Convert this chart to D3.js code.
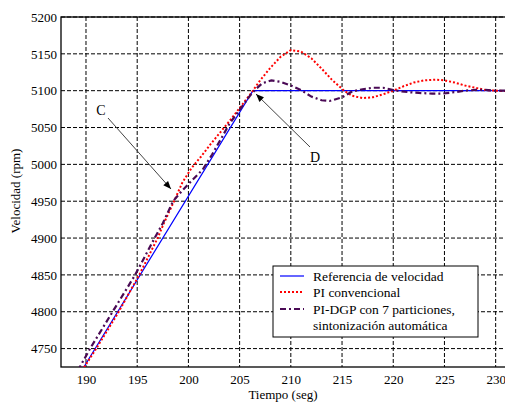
<!DOCTYPE html>
<html>
<head>
<meta charset="utf-8">
<script src="https://cdn.jsdelivr.net/npm/d3@7"></script>
<style>
  body { margin: 0; background: #fff; }
  svg text { font-family: "Liberation Serif", "Times New Roman", "DejaVu Serif", serif; fill: #000; }
</style>
</head>
<body>
<div id="chart"></div>
<script>
// tiempo (seg) / velocidad (rpm)
const xTicks = [190, 195, 200, 205, 210, 215, 220, 225, 230];
const yTicks = [4750, 4800, 4850, 4900, 4950, 5000, 5050, 5100, 5150, 5200];

const refT = [189.4, 206.3, 232];
const refV = [4716, 5100, 5100];

const piT = [189.6, 191.0, 193.2, 195.2, 197.0, 197.6, 198.6, 199.4, 200.3, 201.2, 202.2, 203.2, 204.2, 205.2, 206.2,
  207.0, 208.0, 209.0, 210.0, 211.0, 212.0, 213.0, 214.0, 215.2, 216.0, 217.0, 218.0, 219.0, 220.0,
  221.0, 222.0, 223.0, 224.1, 225.0, 226.0, 227.0, 228.0, 229.0, 230.0, 232.0];
const piV = [4720, 4750, 4800, 4850, 4900, 4920, 4950, 4975, 4995, 5010, 5028, 5045, 5062, 5080, 5098,
  5114, 5131, 5146, 5155, 5153, 5144, 5130, 5115, 5100, 5093, 5090, 5091, 5095, 5100,
  5106, 5111, 5114, 5115, 5114, 5111, 5107, 5104, 5101, 5100, 5099];

const dgpT = [189.2, 190.4, 192.6, 194.8, 196.7, 197.5, 198.5, 199.5, 200.4, 201.4, 202.3, 203.2, 204.0, 205.0, 206.0,
  206.5, 207.2, 208.1, 209.0, 210.0, 211.1, 212.0, 213.0, 213.8, 215.0, 216.0, 217.0, 218.0, 219.0,
  220.3, 221.5, 222.5, 223.8, 224.8, 226.0, 227.0, 228.0, 229.0, 230.0, 232.0];
const dgpV = [4720, 4750, 4800, 4850, 4900, 4920, 4950, 4966, 4979, 4993, 5013, 5035, 5055, 5074, 5093,
  5101, 5110, 5114, 5112, 5107, 5100, 5092, 5087, 5086, 5091, 5099, 5102, 5104, 5104,
  5100, 5098, 5097, 5096, 5096, 5098, 5100, 5101, 5101, 5100, 5100];

const series = [
  { name: "Referencia de velocidad", t: refT, v: refV, color: "#0000ff", width: 1.2, dash: null },
  { name: "PI convencional", t: piT, v: piV, color: "#ff0000", width: 2, dash: "2,2" },
  { name: "PI-DGP con 7 particiones,", name2: "sintonización automática", t: dgpT, v: dgpV, color: "#4a0a55", width: 2.2, dash: "6,3,2,3" }
];

const W = 505, H = 403;
const margin = { top: 17, right: -5, bottom: 36, left: 61 };
const width = W - margin.left - margin.right;
const height = H - margin.top - margin.bottom;
const serif = "'Liberation Serif', 'Times New Roman', 'DejaVu Serif', serif";

const svg = d3.select("#chart").append("svg")
  .attr("width", W).attr("height", H)
  .attr("font-family", serif);

const g = svg.append("g").attr("transform", `translate(${margin.left},${margin.top})`);

const x = d3.scaleLinear().domain([187.56, 231.4]).range([0, width]);
const y = d3.scaleLinear().domain([4725, 5200]).range([height, 0]);

g.append("defs").append("clipPath").attr("id", "clip")
  .append("rect").attr("width", width).attr("height", height);

// grid
g.append("g").selectAll("line").data(xTicks).join("line")
  .attr("x1", d => x(d)).attr("x2", d => x(d))
  .attr("y1", 0).attr("y2", height)
  .attr("stroke", "#000").attr("stroke-dasharray", "4,2").attr("stroke-width", 1);
g.append("g").selectAll("line").data(yTicks).join("line")
  .attr("x1", 0).attr("x2", width)
  .attr("y1", d => y(d)).attr("y2", d => y(d))
  .attr("stroke", "#000").attr("stroke-dasharray", "4,2").attr("stroke-width", 1);

// axes
const xAxis = g.append("g").attr("transform", `translate(0,${height})`)
  .call(d3.axisBottom(x).tickValues(xTicks).tickFormat(d3.format("d")).tickSize(0).tickPadding(8));
const yAxis = g.append("g")
  .call(d3.axisLeft(y).tickValues(yTicks).tickFormat(d3.format("d")).tickSize(0).tickPadding(4));
[xAxis, yAxis].forEach(a => {
  a.attr("font-family", serif).attr("font-size", 13);
  a.select(".domain").remove();
  a.selectAll("text").attr("fill", "#000");
});

// frame
g.append("rect").attr("width", width).attr("height", height)
  .attr("fill", "none").attr("stroke", "#000").attr("stroke-width", 1.3);

// series
const line = d3.line().x(d => x(d[0])).y(d => y(d[1]));
const lines = g.append("g").attr("clip-path", "url(#clip)");
series.forEach(s => {
  lines.append("path")
    .datum(s.t.map((t, i) => [t, s.v[i]]))
    .attr("fill", "none")
    .attr("stroke", s.color)
    .attr("stroke-width", s.width)
    .attr("stroke-dasharray", s.dash)
    .attr("d", line);
});

// annotations
const defs = svg.append("defs");
defs.append("marker").attr("id", "arrow")
  .attr("viewBox", "0 0 10 10").attr("refX", 10).attr("refY", 5)
  .attr("markerWidth", 10).attr("markerHeight", 8).attr("orient", "auto")
  .attr("markerUnits", "userSpaceOnUse")
  .append("path").attr("d", "M0,1 L10,5 L0,9 Z").attr("fill", "#000");

const notes = [
  { label: "C", lx: 101, ly: 115, x1: 108, y1: 118, x2: 171, y2: 189 },
  { label: "D", lx: 315, ly: 162, x1: 310, y1: 147, x2: 256, y2: 94 }
];
notes.forEach(n => {
  svg.append("line")
    .attr("x1", n.x1).attr("y1", n.y1).attr("x2", n.x2).attr("y2", n.y2)
    .attr("stroke", "#444").attr("stroke-width", 1)
    .attr("marker-end", "url(#arrow)");
  svg.append("text").attr("x", n.lx).attr("y", n.ly)
    .attr("text-anchor", "middle").attr("font-size", 14).attr("fill", "#333")
    .text(n.label);
});

// axis titles
svg.append("text").attr("x", 283).attr("y", 399)
  .attr("text-anchor", "middle").attr("font-size", 13).text("Tiempo (seg)");
svg.append("text").attr("transform", "translate(20,191) rotate(-90)")
  .attr("text-anchor", "middle").attr("font-size", 13).text("Velocidad (rpm)");

// legend
const leg = svg.append("g").attr("transform", "translate(273,266)");
leg.append("rect").attr("width", 205).attr("height", 71)
  .attr("fill", "#fff").attr("stroke", "#000").attr("stroke-width", 1);
const rows = [10, 26, 43];
series.forEach((s, i) => {
  leg.append("line").attr("x1", 7).attr("x2", 31)
    .attr("y1", rows[i]).attr("y2", rows[i])
    .attr("stroke", s.color).attr("stroke-width", i === 0 ? 1.2 : 2)
    .attr("stroke-dasharray", s.dash);
  leg.append("text").attr("x", 40).attr("y", rows[i] + 4.5)
    .attr("font-size", 13.5).text(s.name);
  if (s.name2) {
    leg.append("text").attr("x", 40).attr("y", rows[i] + 21)
      .attr("font-size", 13.5).text(s.name2);
  }
});
</script>
</body>
</html>
